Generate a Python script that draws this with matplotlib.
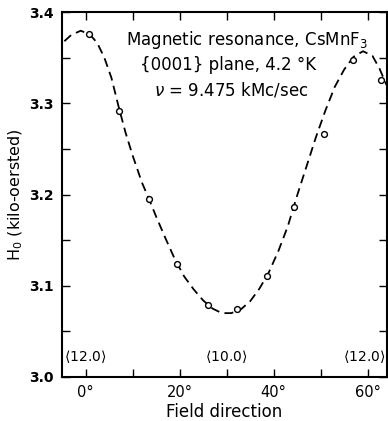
import matplotlib
matplotlib.use("Agg")
import matplotlib.pyplot as plt
from matplotlib.ticker import MultipleLocator

# Measured points (field direction in degrees, H0 in kilo-oersted)
point_deg = [0.8, 7.2, 13.5, 19.5, 26.0, 32.3, 38.5, 44.4, 50.6, 56.8, 62.9]
point_h = [3.376, 3.292, 3.195, 3.124, 3.079, 3.075, 3.111, 3.186, 3.266, 3.347, 3.326]

curve_deg = [-4.5, -3, -1, 1, 2.5, 4, 5.5, 7, 8.5, 10, 12, 13.5, 15, 17, 19, 21, 23, 25,
             27, 29, 31, 33, 35, 37, 39, 41, 43, 45, 47, 49, 51, 53, 55, 57, 59, 61, 62.5, 64]
curve_h = [3.368, 3.375, 3.3795, 3.375, 3.366, 3.350, 3.328, 3.297, 3.268, 3.243, 3.213,
           3.195, 3.176, 3.152, 3.129, 3.110, 3.096, 3.084, 3.075, 3.070, 3.070, 3.074,
           3.083, 3.097, 3.115, 3.138, 3.165, 3.199, 3.231, 3.263, 3.292, 3.318, 3.337,
           3.351, 3.357, 3.352, 3.338, 3.320]

x_ticks = [0, 20, 40, 60]
x_tick_labels = ["0°", "20°", "40°", "60°"]
y_ticks = [3.0, 3.1, 3.2, 3.3, 3.4]
y_tick_labels = ["3.0", "3.1", "3.2", "3.3", "3.4"]
dir_pos = [0, 30, 59.2]
dir_labels = [r"$\langle$12.0$\rangle$", r"$\langle$10.0$\rangle$", r"$\langle$12.0$\rangle$"]

fig = plt.figure(figsize=(3.88, 4.21), dpi=100)
ax = fig.add_axes([62 / 388, 1 - 377 / 421, 325 / 388, 365 / 421])

ax.plot(curve_deg, curve_h, color="black", lw=1.3, linestyle=(0, (5, 3)))
ax.plot(point_deg, point_h, linestyle="none", marker="o", ms=4.2,
        mfc="white", mec="black", mew=1.0, zorder=3)

ax.set_xlim(-5, 64.1)
ax.set_ylim(3.0, 3.4)
ax.set_xticks(x_ticks)
ax.set_xticklabels(x_tick_labels, fontsize=10.5)
ax.set_yticks(y_ticks)
ax.set_yticklabels(y_tick_labels, fontsize=10, fontweight="bold")
ax.xaxis.set_minor_locator(MultipleLocator(10))
ax.yaxis.set_minor_locator(MultipleLocator(0.05))
ax.tick_params(which="both", direction="in", top=True, right=True, length=6, width=1)
ax.tick_params(axis="x", pad=6)
ax.tick_params(axis="y", pad=6)
for s in ax.spines.values():
    s.set_linewidth(1.5)

ax.set_xlabel("Field direction", fontsize=12, labelpad=2)
ax.set_ylabel(r"H$_0$ (kilo-oersted)", fontsize=11.5, labelpad=3)

for p, lab in zip(dir_pos, dir_labels):
    ax.text(p, 3.022, lab, ha="center", va="center", fontsize=10)

ax.text(0.57, 0.923, r"Magnetic resonance, CsMnF$_3$", transform=ax.transAxes,
        ha="center", va="center", fontsize=12)
ax.text(0.512, 0.855, "{0001} plane, 4.2 °K", transform=ax.transAxes,
        ha="center", va="center", fontsize=12)
ax.text(0.52, 0.786, r"$\nu$ = 9.475 kMc/sec", transform=ax.transAxes,
        ha="center", va="center", fontsize=12)

fig.savefig("out.png", dpi=100)
